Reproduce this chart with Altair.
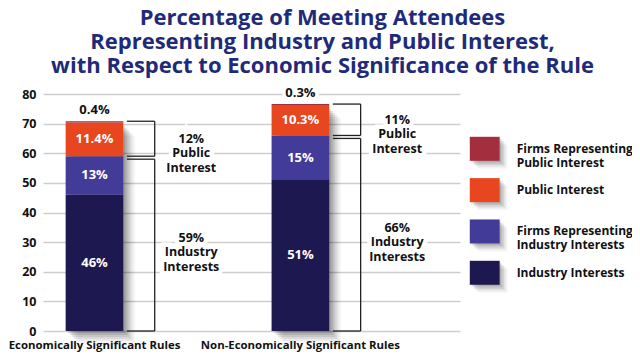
import altair as alt
import pandas as pd

# ---------------- data ----------------
categories = ["Economically Significant Rules", "Non-Economically Significant Rules"]
series = ["Industry Interests", "Firms Representing Industry Interests",
          "Public Interest", "Firms Representing Public Interest"]
industry = [46, 51]
firms_industry = [13, 15]
public = [11.4, 10.3]
firms_public = [0.4, 0.3]
segment_labels = [["46%", "51%"], ["13%", "15%"], ["11.4%", "10.3%"], ["0.4%", "0.3%"]]
industry_total_labels = ["59%", "66%"]
public_total_labels = ["12%", "11%"]
legend_labels = ["Firms Representing\nPublic Interest", "Public Interest",
                 "Firms Representing\nIndustry Interests", "Industry Interests"]
legend_series = ["Firms Representing Public Interest", "Public Interest",
                 "Firms Representing Industry Interests", "Industry Interests"]
y_ticks = [0, 10, 20, 30, 40, 50, 60, 70, 80]
colors = ["#1e1850", "#433b98", "#e8461f", "#a32f3e"]

# ---------------- layout helpers ----------------
FONT = "Open Sans"
slot = [1 + 4 * i for i in range(len(categories))]   # bar centre positions
half = 0.56
xs = alt.Scale(domain=[0, 8.1], nice=False, zero=False)
ys = alt.Scale(domain=[0, 80], nice=False, zero=False)
yaxis = alt.Axis(values=y_ticks, title=None, ticks=False, domain=False, grid=True,
                 gridColor="#cdcdcd", gridWidth=1.5, labelFont=FONT,
                 labelFontWeight="bold", labelFontSize=12.5, labelColor="#111111",
                 labelPadding=7)
X = lambda f: alt.X(f, type="quantitative", scale=xs, axis=None)
X2 = lambda f: alt.X2(f)
Y = lambda f: alt.Y(f, type="quantitative", scale=ys, axis=yaxis)
Y2 = lambda f: alt.Y2(f)

# stacked segments
seg_rows = []
bars = []
vals = [industry, firms_industry, public, firms_public]
for i, cat in enumerate(categories):
    base = 0.0
    for s, name in enumerate(series):
        v = vals[s][i]
        seg_rows.append(dict(cat=cat, series=name, x0=slot[i] - half, x1=slot[i] + half,
                             xc=slot[i], y0=base, y1=base + v, ym=base + v / 2,
                             label=segment_labels[s][i], order=s))
        base += v
    bars.append(dict(cat=cat, x0=slot[i] - half, x1=slot[i] + half, y0=0, y1=base,
                     xc=slot[i], top=base))
seg = pd.DataFrame(seg_rows)
bar_df = pd.DataFrame(bars)

inside = seg[seg.order < 3]
above = seg[seg.order == 3].copy()
above["ylab"] = bar_df["top"].values + 3.8

# brackets
br_rows, brl_rows = [], []
for i, cat in enumerate(categories):
    ind_top = industry[i] + firms_industry[i]
    top = bar_df["top"][i]
    xa = slot[i] + half + 0.07
    xv = slot[i] + 1.17
    for (lo, hi) in [(ind_top, top), (0, ind_top - 1.0)]:
        br_rows += [dict(x=xa, x2=xv, y=hi, y2=hi), dict(x=xv, x2=xv, y=lo, y2=hi),
                    dict(x=xa, x2=xv, y=lo, y2=lo)]
    brl_rows.append(dict(x=slot[i] + 1.88, y=(ind_top + top) / 2,
                         text=public_total_labels[i] + "\nPublic\nInterest"))
    brl_rows.append(dict(x=slot[i] + 1.88, y=(ind_top - 1.0) / 2 + 2.4,
                         text=industry_total_labels[i] + "\nIndustry\nInterests"))
br = pd.DataFrame(br_rows)
brl = pd.DataFrame(brl_rows)

# legend
leg = pd.DataFrame(dict(series=legend_series, label=legend_labels,
                        i=list(range(len(legend_series)))))
leg["yc"] = 61.5 - leg["i"] * 13.95
leg["y0"] = leg["yc"] - 4.05
leg["y1"] = leg["yc"] + 4.05
leg["x0"] = 8.29
leg["x1"] = 8.87
leg["xt"] = 9.2

cat_df = pd.DataFrame(dict(cat=categories, x=slot, y=[-5.2] * len(categories)))

color = alt.Color("series:N", scale=alt.Scale(domain=series, range=colors), legend=None)

layers = []
# grid carrier
layers.append(alt.Chart(pd.DataFrame(dict(v=y_ticks))).mark_rule(opacity=0).encode(
    y=Y("v")))
# shadows for bars and legend swatches
for k, op in [(2, 0.11), (4, 0.10), (6, 0.09), (8, 0.07), (10, 0.05), (12, 0.03)]:
    layers.append(alt.Chart(bar_df).mark_rect(color="#000000", opacity=op,
                                              xOffset=k, x2Offset=k, yOffset=k + 3,
                                              y2Offset=k).encode(
        x=X("x0"), x2=X2("x1"), y=Y("y1"), y2=Y2("y0")))
    layers.append(alt.Chart(leg).mark_rect(color="#000000", opacity=op * 0.8,
                                           xOffset=k * 0.7, x2Offset=k * 0.7,
                                           yOffset=k * 0.7, y2Offset=k * 0.7).encode(
        x=X("x0"), x2=X2("x1"), y=Y("y1"), y2=Y2("y0")))
# bars
layers.append(alt.Chart(seg).mark_rect().encode(
    x=X("x0"), x2=X2("x1"), y=Y("y0"), y2=Y2("y1"), color=color))
# in-bar labels
layers.append(alt.Chart(inside).mark_text(font=FONT, fontWeight="bold", fontSize=13,
                                          color="white", baseline="middle").encode(
    x=X("xc"), y=Y("ym"), text="label:N"))
# above-bar labels with halo
for st in [dict(stroke="white", strokeWidth=7), dict()]:
    layers.append(alt.Chart(above).mark_text(font=FONT, fontWeight="bold", fontSize=13,
                                             color="#111111", baseline="middle", **st).encode(
        x=X("xc"), y=Y("ylab"), text="label:N"))
# brackets
layers.append(alt.Chart(br).mark_rule(color="#222222", strokeWidth=1.3).encode(
    x=X("x"), x2=X2("x2"), y=Y("y"), y2=Y2("y2")))
for st in [dict(stroke="white", strokeWidth=9), dict()]:
    layers.append(alt.Chart(brl).mark_text(font=FONT, fontWeight="bold", fontSize=12.5,
                                           color="#111111", baseline="middle",
                                           lineBreak="\n", lineHeight=14.5, **st).encode(
        x=X("x"), y=Y("y"), text="text:N"))
# legend
layers.append(alt.Chart(leg).mark_rect().encode(
    x=X("x0"), x2=X2("x1"), y=Y("y0"), y2=Y2("y1"), color=color))
layers.append(alt.Chart(leg).mark_text(font=FONT, fontWeight="bold", fontSize=12,
                                       color="#111111", align="left", baseline="middle",
                                       lineBreak="\n", lineHeight=14).encode(
    x=X("xt"), y=Y("yc"), text="label:N"))
# category labels
layers.append(alt.Chart(cat_df).mark_text(font=FONT, fontWeight="bold", fontSize=11.4,
                                          color="#111111", baseline="middle").encode(
    x=X("x"), y=Y("y"), text="cat:N"))

chart = alt.layer(*layers).properties(
    width=417, height=237,
    autosize=alt.AutoSizeParams(type="none"),
    padding={"left": 35, "top": 86, "right": 172, "bottom": 23},
    title=alt.TitleParams(
        text=["Percentage of Meeting Attendees",
              "Representing Industry and Public Interest,",
              "with Respect to Economic Significance of the Rule"],
        font=FONT, fontSize=22, fontWeight="bold", color="#1f2a78",
        anchor="middle", dx=71, lineHeight=24, offset=9),
).configure_view(stroke=None)

chart.save("out.html", embed_options={"renderer": "svg", "actions": False})
